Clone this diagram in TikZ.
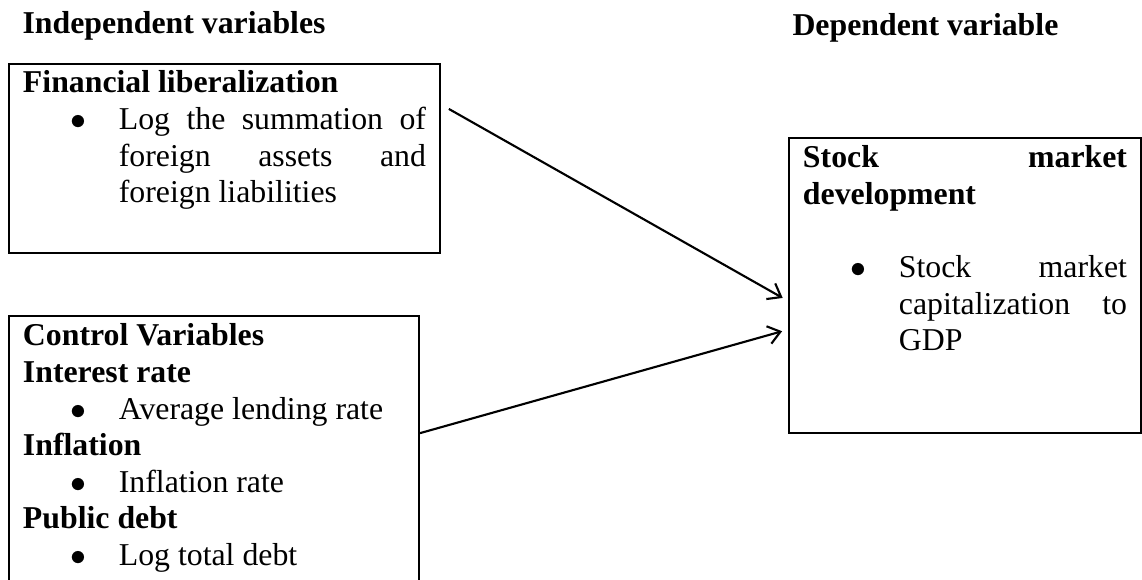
\documentclass[tikz,border=0pt]{standalone}
\usepackage{fontspec}
\setmainfont{Liberation Serif}
\usetikzlibrary{arrows.meta}
\tolerance=10000 \hbadness=10000 \hyphenpenalty=10000
\newcommand{\bul}[1]{\par\hangindent=36.2pt\hangafter=1\noindent\hbox to 36.2pt{\hskip17.8pt$\bullet$\hfil}#1\par}
\begin{document}
\begin{tikzpicture}[x=0.3774pt,y=-0.3774pt,
    font=\fontsize{12pt}{13.8pt}\selectfont,
    varbox/.style={draw,line width=0.75pt,anchor=north west,align=justify,inner xsep=5.28pt,inner ysep=0pt},
    arr/.style={-{Straight Barb[length=4.5pt,width=6.8pt]},line width=0.8pt,shorten >=2.3pt}]
        \clip (0,0) rectangle (1142,579);
        \node [anchor=base west,inner sep=0pt] (indep) at (22,33) {\textbf{Independent variables}};
        \node [anchor=base west,inner sep=0pt] (depv) at (792,35) {\textbf{Dependent variable}};
        \node [varbox,text width=152.1pt,text height=10.9pt,text depth=60.4pt] (fl) at (8,63)
            {\textbf{Financial liberalization}\bul{Log the summation of\linebreak foreign assets and\linebreak foreign liabilities}};
        \node [varbox,text width=144.2pt,text height=11.3pt,text depth=96.2pt] (cv) at (8,315)
            {\textbf{Control Variables}\par\textbf{Interest rate}\bul{Average lending rate}\textbf{Inflation}\bul{Inflation rate}\textbf{Public debt}\bul{Log total debt}};
        \node [varbox,text width=122.3pt,text height=11.3pt,text depth=100pt] (smd) at (788,137)
            {\textbf{Stock market\linebreak development}\par\mbox{}\bul{Stock market\linebreak capitalization to\linebreak GDP}};
        \draw [arr,shorten <=3.4pt] (fl.14) -- (smd.185.7);
        \draw [arr] (cv.7) -- (smd.194.5);
    \end{tikzpicture}
\end{document}
